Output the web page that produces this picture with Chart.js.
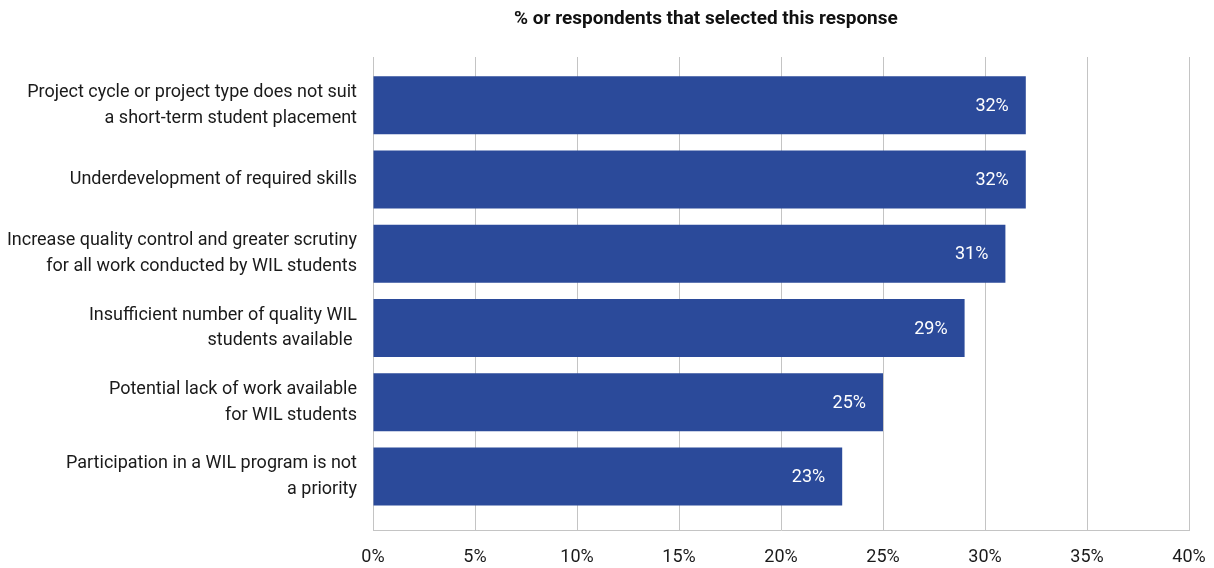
<!DOCTYPE html>
<html>
<head>
<meta charset="utf-8">
<script src="https://cdn.jsdelivr.net/npm/chart.js@4.4.1/dist/chart.umd.min.js"></script>
<style>
  html, body { margin: 0; padding: 0; background: #fff; }
  canvas { display: block; }
</style>
</head>
<body>
<canvas id="chart" width="1214" height="568"></canvas>
<script>
const categories = [
    ["Project cycle or project type does not suit", "a short-term student placement"],
    "Underdevelopment of required skills",
    ["Increase quality control and greater scrutiny", "for all work conducted by WIL students"],
    ["Insufficient number of quality WIL", "students available "],
    ["Potential lack of work available", "for WIL students"],
    ["Participation in a WIL program is not", "a priority"]
];
const percentages = [32, 32, 31, 29, 25, 23];
const xTicks = [0, 5, 10, 15, 20, 25, 30, 35, 40];
const chartTitle = "% or respondents that selected this response";

const FONT = "Roboto, 'Liberation Sans', sans-serif";
const BAR_COLOR = "#2b4a9a";
const GRID_COLOR = "#c4c4c4";

// white value text just inside the end of each bar
const barValueLabels = {
    id: "barValueLabels",
    afterDatasetsDraw(chart) {
        const ctx = chart.ctx;
        const meta = chart.getDatasetMeta(0);
        ctx.save();
        ctx.fillStyle = "#ffffff";
        ctx.font = "18px " + FONT;
        ctx.textAlign = "right";
        ctx.textBaseline = "middle";
        meta.data.forEach((bar, i) => {
            ctx.fillText(percentages[i] + "%", bar.x - 17, bar.y + 1);
        });
        ctx.restore();
    }
};

// heading sits over the left part of the plot rather than the canvas centre
const heading = {
    id: "heading",
    afterDraw(chart) {
        const ctx = chart.ctx;
        const area = chart.chartArea;
        ctx.save();
        ctx.fillStyle = "#111";
        ctx.font = "bold 19px " + FONT;
        ctx.textAlign = "center";
        ctx.textBaseline = "middle";
        ctx.fillText(chartTitle, area.left + (area.right - area.left) * 0.408, 19);
        ctx.restore();
    }
};

const chartCanvas = document.getElementById("chart");

new Chart(chartCanvas, {
    type: "bar",
    data: {
        datasets: [{
            data: percentages.map((v, i) => ({ x: v, y: i })),
            backgroundColor: BAR_COLOR,
            borderWidth: 0,
            barPercentage: 1,
            categoryPercentage: 0.78
        }]
    },
    options: {
        indexAxis: "y",
        responsive: false,
        animation: false,
        layout: { padding: { top: 57, right: 25, left: 0, bottom: 0 } },
        plugins: {
            legend: { display: false },
            tooltip: { enabled: false }
        },
        scales: {
            x: {
                type: "linear",
                min: 0,
                max: 40,
                afterBuildTicks: (axis) => { axis.ticks = xTicks.map(v => ({ value: v })); },
                afterFit: (scale) => {
                    scale.height = 38;
                    scale.paddingLeft = 0;
                    scale.paddingRight = 0;
                },
                ticks: {
                    callback: (v) => v + "%",
                    color: "#1a1a1a",
                    font: { family: FONT, size: 18 },
                    padding: 17,
                    maxRotation: 0
                },
                grid: { color: GRID_COLOR, lineWidth: 1, drawTicks: false },
                border: { color: GRID_COLOR, width: 1 }
            },
            y: {
                type: "linear",
                reverse: true,
                offset: false,
                bounds: "data",
                min: -0.65,
                max: 5.72,
                afterBuildTicks: (axis) => { axis.ticks = categories.map((_, i) => ({ value: i })); },
                afterFit: (scale) => {
                    scale.width = 373;
                    scale.paddingTop = 0;
                    scale.paddingBottom = 0;
                },
                ticks: {
                    callback: (v) => categories[v],
                    color: "#1a1a1a",
                    font: { family: FONT, size: 18, lineHeight: 1.44 },
                    padding: 16,
                    autoSkip: false
                },
                grid: { display: false, drawTicks: false, offset: false },
                border: { color: GRID_COLOR, width: 1 }
            }
        }
    },
    plugins: [barValueLabels, heading]
});
</script>
</body>
</html>
